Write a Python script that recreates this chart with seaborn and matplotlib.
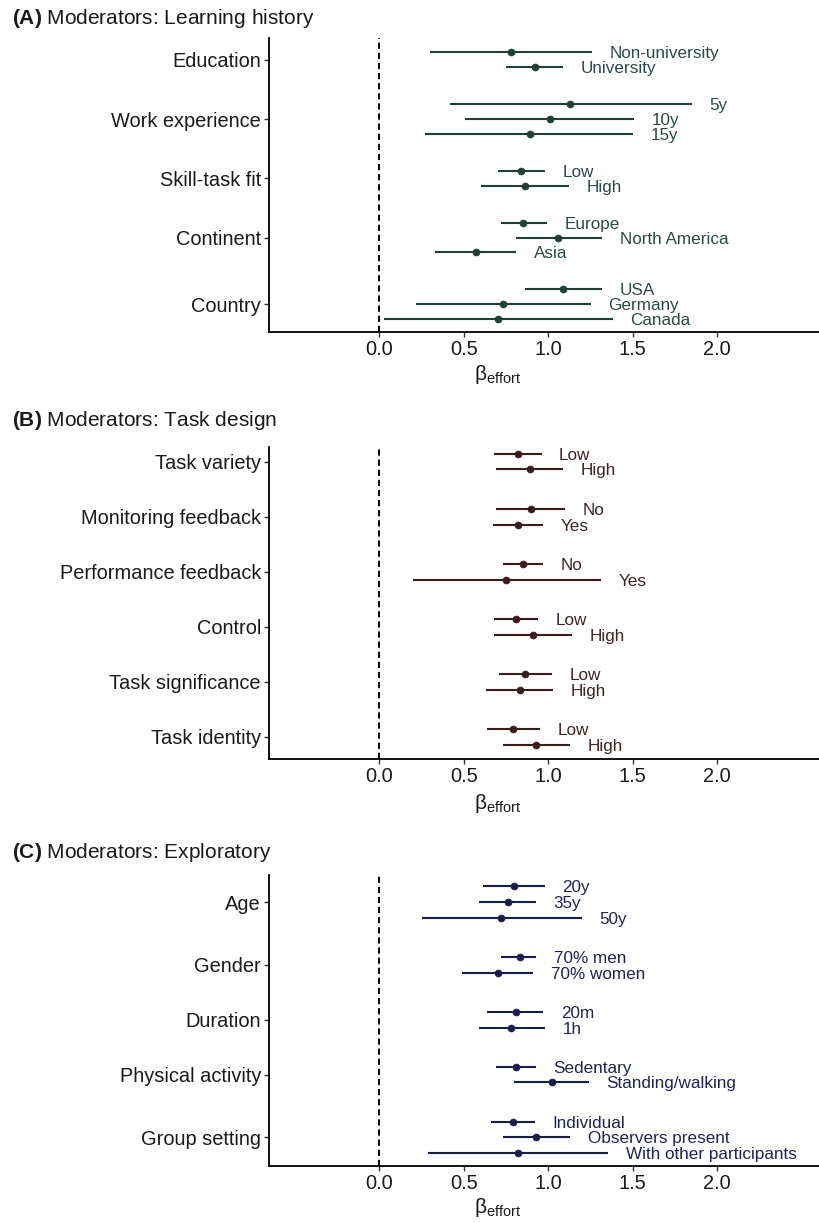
import numpy as np
import pandas as pd
import matplotlib
matplotlib.use("Agg")
import matplotlib.pyplot as plt
import seaborn as sns

# ---------------- data ----------------
a_moderator = ["Education", "Education", "Work experience", "Work experience", "Work experience",
               "Skill-task fit", "Skill-task fit", "Continent", "Continent", "Continent",
               "Country", "Country", "Country"]
a_level = ["Non-university", "University", "5y", "10y", "15y", "Low", "High",
           "Europe", "North America", "Asia", "USA", "Germany", "Canada"]
a_est = [0.78, 0.92, 1.13, 1.01, 0.89, 0.84, 0.86, 0.85, 1.06, 0.57, 1.09, 0.73, 0.70]
a_lo = [0.30, 0.75, 0.42, 0.51, 0.27, 0.70, 0.60, 0.72, 0.81, 0.33, 0.86, 0.22, 0.03]
a_hi = [1.26, 1.09, 1.85, 1.51, 1.50, 0.98, 1.12, 0.99, 1.32, 0.81, 1.32, 1.25, 1.38]

b_moderator = ["Task variety", "Task variety", "Monitoring feedback", "Monitoring feedback",
               "Performance feedback", "Performance feedback", "Control", "Control",
               "Task significance", "Task significance", "Task identity", "Task identity"]
b_level = ["Low", "High", "No", "Yes", "No", "Yes", "Low", "High", "Low", "High", "Low", "High"]
b_est = [0.82, 0.89, 0.90, 0.82, 0.85, 0.75, 0.81, 0.91, 0.86, 0.83, 0.79, 0.93]
b_lo = [0.68, 0.69, 0.69, 0.67, 0.73, 0.20, 0.68, 0.68, 0.71, 0.63, 0.64, 0.73]
b_hi = [0.96, 1.09, 1.10, 0.97, 0.97, 1.31, 0.94, 1.14, 1.02, 1.03, 0.95, 1.13]

c_moderator = ["Age", "Age", "Age", "Gender", "Gender", "Duration", "Duration",
               "Physical activity", "Physical activity", "Group setting", "Group setting",
               "Group setting"]
c_level = ["20y", "35y", "50y", "70% men", "70% women", "20m", "1h", "Sedentary",
           "Standing/walking", "Individual", "Observers present", "With other participants"]
c_est = [0.80, 0.76, 0.72, 0.83, 0.70, 0.81, 0.78, 0.81, 1.02, 0.79, 0.93, 0.82]
c_lo = [0.615, 0.59, 0.25, 0.72, 0.49, 0.64, 0.59, 0.69, 0.80, 0.66, 0.73, 0.29]
c_hi = [0.98, 0.925, 1.20, 0.93, 0.91, 0.97, 0.98, 0.925, 1.24, 0.92, 1.13, 1.355]

x_ticks = [0.0, 0.5, 1.0, 1.5, 2.0]
x_ticklabels = ["0.0", "0.5", "1.0", "1.5", "2.0"]

titles = [r"$\mathbf{(A)}$ Moderators: Learning history",
          r"$\mathbf{(B)}$ Moderators: Task design",
          r"$\mathbf{(C)}$ Moderators: Exploratory"]

# ---------------- style ----------------
sns.set_style("ticks")
plt.rcParams["font.family"] = ["Liberation Sans", "DejaVu Sans"]
plt.rcParams["mathtext.fontset"] = "custom"
plt.rcParams["mathtext.rm"] = "Liberation Sans"
plt.rcParams["mathtext.it"] = "Liberation Sans:italic"
plt.rcParams["mathtext.bf"] = "Liberation Sans:bold"

W, H = 819, 1222
fig = plt.figure(figsize=(W / 100, H / 100), dpi=100)


def build(mods, levels, est, lo, hi, gap):
    ys, y, prev = [], 0.0, None
    for m in mods:
        if prev is not None:
            y += 1.0 if m == prev else gap
        ys.append(y)
        prev = m
    df = pd.DataFrame({"moderator": mods, "level": levels, "est": est,
                       "lo": lo, "hi": hi, "y": ys})
    return df


panels = [
    dict(df=build(a_moderator, a_level, a_est, a_lo, a_hi, 2.47), color="#1f3f38",
         tcolor="#2a4a45", top=38, bottom=331.7, pad_top=0.96, pad_bot=0.84),
    dict(df=build(b_moderator, b_level, b_est, b_lo, b_hi, 2.55), color="#3a1c1c",
         tcolor="#3d2424", top=446.7, bottom=759, pad_top=0.47, pad_bot=0.92),
    dict(df=build(c_moderator, c_level, c_est, c_lo, c_hi, 2.48), color="#1a1d48",
         tcolor="#1f2350", top=875, bottom=1165.7, pad_top=0.72, pad_bot=0.80),
]
title_y = [18, 421, 853]

left_px = 269.3
x0, x1 = -0.651, 2.602

for i, p in enumerate(panels):
    df = p["df"]
    ax = fig.add_axes([left_px / W, 1 - p["bottom"] / H, 1 - left_px / W,
                       (p["bottom"] - p["top"]) / H])
    ax.axvline(0, color="black", lw=1.4, dashes=(3.2, 2.0), zorder=1)
    ax.hlines(df["y"], df["lo"], df["hi"], color=p["color"], lw=1.5, zorder=2)
    sns.scatterplot(data=df, x="est", y="y", ax=ax, color=p["color"], s=25,
                    edgecolor=p["color"], linewidth=0.5, zorder=3, legend=False)
    for _, r in df.iterrows():
        ax.text(r["hi"] + 0.104, r["y"], r["level"], color=p["tcolor"], fontsize=12.3,
                ha="left", va="center_baseline")
    centers = df.groupby("moderator", sort=False)["y"].mean()
    ax.set_yticks(centers.values)
    ax.set_yticklabels(centers.index, fontsize=14.4, color="#1a1a1a")
    ax.set_ylim(df["y"].max() + p["pad_bot"], df["y"].min() - p["pad_top"])
    ax.set_xlim(x0, x1)
    ax.set_xticks(x_ticks)
    ax.set_xticklabels(x_ticklabels, fontsize=14.4, color="#1a1a1a")
    ax.set_ylabel("")
    ax.set_xlabel(r"$\mathrm{β}_{\mathrm{effort}}$", fontsize=15, color="#1a1a1a")
    ax.xaxis.set_label_coords((498 - left_px) / (W - left_px), -0.105)
    ax.xaxis.label.set_va("top")
    for s in ["top", "right"]:
        ax.spines[s].set_visible(False)
    for s in ["left", "bottom"]:
        ax.spines[s].set_linewidth(1.3)
        ax.spines[s].set_color("black")
    ax.tick_params(axis="both", length=3.5, width=1.0, color="#333333", pad=2.5)
    ax.set_facecolor("white")
    fig.text(12 / W, 1 - title_y[i] / H, titles[i], fontsize=15, ha="left", va="center",
             color="#1a1a1a")

fig.savefig("out.png", dpi=100, facecolor="white")
